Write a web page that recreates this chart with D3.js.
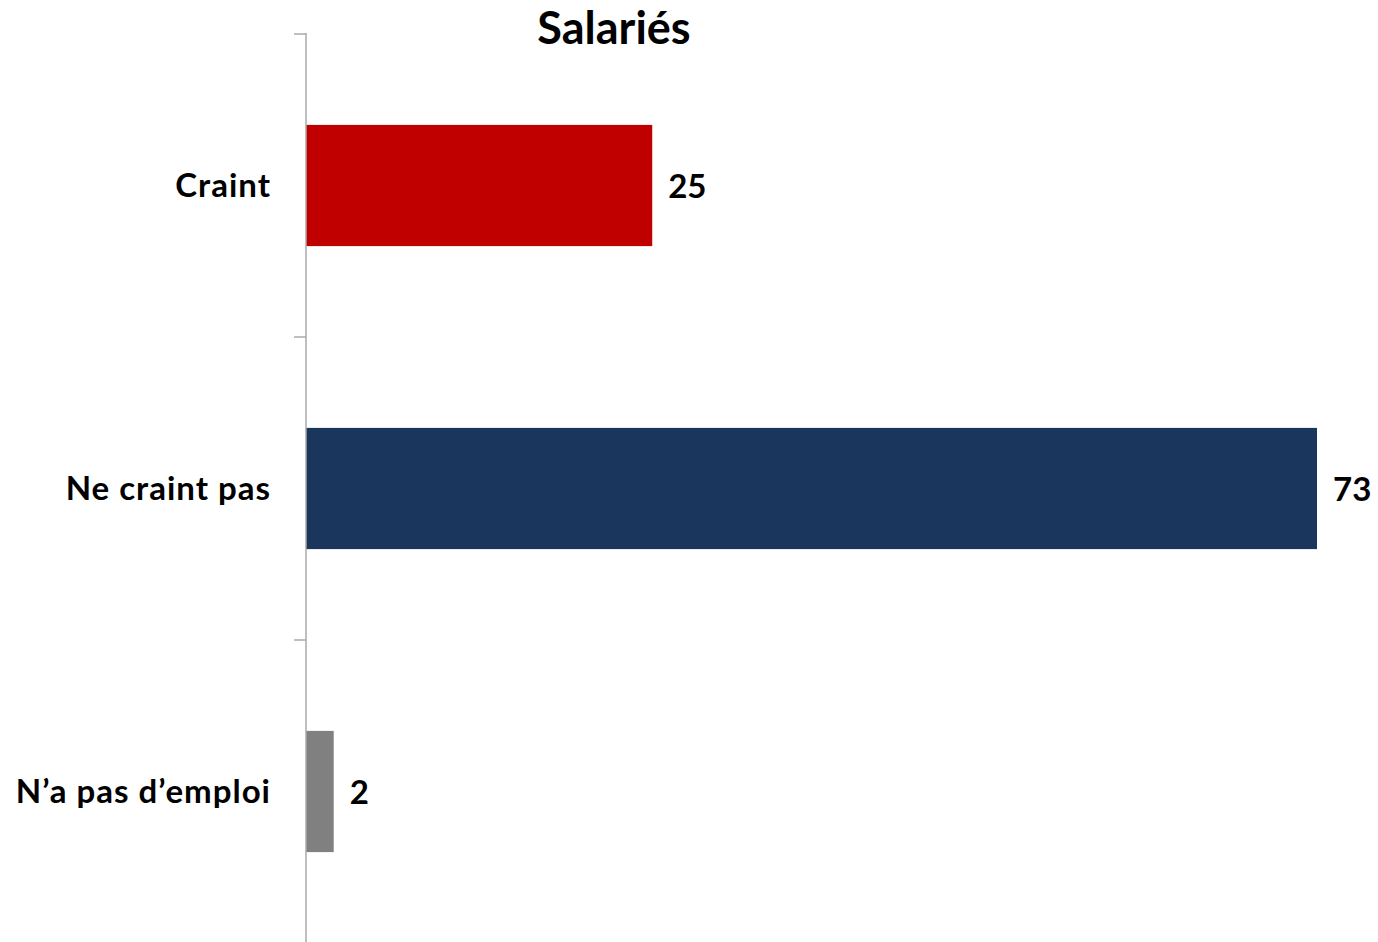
<!DOCTYPE html>
<html>
<head>
<meta charset="utf-8">
<script src="https://cdn.jsdelivr.net/npm/d3@7"></script>
<style>
  body { margin: 0; background: #fff; }
  text { font-family: Lato, "Open Sans", sans-serif; font-weight: bold; fill: #000; }
</style>
</head>
<body>
<div id="chart"></div>
<script>
// data
const categories = ['Craint', 'Ne craint pas', 'N\u2019a pas d\u2019emploi'];
const values = [25, 73, 2];
const colors = ['#C00000', '#1B365D', '#808080'];
const title = 'Salariés';

const W = 1378, H = 942;
const axisX = 306;

const svg = d3.select('#chart')
  .append('svg')
  .attr('width', W)
  .attr('height', H);

// scales
const y = d3.scaleBand()
  .domain(categories)
  .range([34, 943])
  .paddingInner(0.6)
  .paddingOuter(0.3);

const x = d3.scaleLinear()
  .domain([0, d3.max(values)])
  .range([axisX, 1317]);

// bars
svg.selectAll('rect.bar')
  .data(categories)
  .join('rect')
  .attr('class', 'bar')
  .attr('x', x(0))
  .attr('y', d => y(d))
  .attr('width', (d, i) => x(values[i]) - x(0))
  .attr('height', y.bandwidth())
  .attr('fill', (d, i) => colors[i]);

// axis line + ticks at band edges
svg.append('line')
  .attr('x1', axisX).attr('x2', axisX)
  .attr('y1', 33).attr('y2', 942)
  .attr('stroke', '#aaaaaa')
  .attr('stroke-width', 1.5);

// band edges (top of each category slot)
const edges = categories.map(d => y(d) - (y.step() - y.bandwidth()) / 2);
svg.selectAll('line.tick')
  .data(edges)
  .join('line')
  .attr('class', 'tick')
  .attr('x1', axisX - 12).attr('x2', axisX)
  .attr('y1', d => d).attr('y2', d => d)
  .attr('stroke', '#aaaaaa')
  .attr('stroke-width', 1.5);

// category labels
svg.selectAll('text.cat')
  .data(categories)
  .join('text')
  .attr('class', 'cat')
  .attr('x', 271)
  .attr('y', d => y(d) + y.bandwidth() / 2)
  .attr('dy', '0.35em')
  .attr('text-anchor', 'end')
  .style('font-size', '33px')
  .style('letter-spacing', '1px')
  .text(d => d);

// value labels
svg.selectAll('text.val')
  .data(categories)
  .join('text')
  .attr('class', 'val')
  .attr('x', (d, i) => x(values[i]) + 16)
  .attr('y', d => y(d) + y.bandwidth() / 2)
  .attr('dy', '0.38em')
  .style('font-size', '33px')
  .text((d, i) => values[i]);

// title
svg.append('text')
  .attr('x', 614)
  .attr('y', 44)
  .attr('text-anchor', 'middle')
  .style('font-size', '45px')
  .text(title);
</script>
</body>
</html>
